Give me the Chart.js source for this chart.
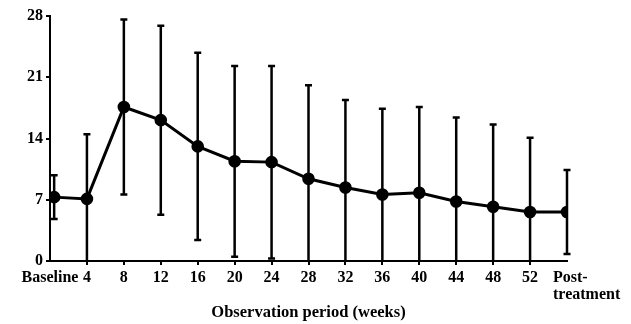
<!DOCTYPE html>
<html>
<head>
<meta charset="utf-8">
<script src="https://cdn.jsdelivr.net/npm/chart.js@4/dist/chart.umd.min.js"></script>
<style>
  html, body { margin: 0; padding: 0; background: #fff; }
  #wrap { width: 631px; height: 324px; }
</style>
</head>
<body>
<div id="wrap"><canvas id="obs-chart"></canvas></div>
<script>
// time points (weeks) and their axis labels
const weekLabels = ["Baseline", "4", "8", "12", "16", "20", "24", "28", "32", "36", "40", "44", "48", "52", "Post-treatment"];
const weekPos = [0.45, 4, 8, 12, 16, 20, 24, 28, 32, 36, 40, 44, 48, 52, 56];
const meanValues = [7.3, 7.1, 17.6, 16.1, 13.1, 11.4, 11.3, 9.4, 8.4, 7.6, 7.8, 6.8, 6.2, 5.6, 5.6];
const sdValues = [2.5, 7.4, 10.0, 10.8, 10.7, 10.9, 11.0, 10.7, 10.0, 9.8, 9.8, 9.6, 9.4, 8.5, 4.8];
const xTickValues = [0, 4, 8, 12, 16, 20, 24, 28, 32, 36, 40, 44, 48, 52, 56];
const yTickValues = [0, 7, 14, 21, 28];

const serifFamily = "'Liberation Serif', 'Times New Roman', serif";
const tickFont = { family: serifFamily, size: 16, weight: "bold" };
const titleFont = { family: serifFamily, size: 16.5, weight: "bold" };

const tickLabel = (v) => {
  if (v === 0) return weekLabels[0];
  if (v === 56) return "";
  return weekLabels[weekPos.indexOf(v)];
};

// error bars, drawn under the line
const errorBars = {
  id: "errorBars",
  beforeDatasetsDraw(chart) {
    const { ctx, scales: { x, y } } = chart;
    ctx.save();
    ctx.strokeStyle = "#000";
    ctx.lineCap = "butt";
    ctx.lineWidth = 2.5;
    weekPos.forEach((w, i) => {
      const px = x.getPixelForValue(w);
      const hi = meanValues[i] + sdValues[i];
      const lo = Math.max(0, meanValues[i] - sdValues[i]);
      const pHi = y.getPixelForValue(hi);
      const pLo = y.getPixelForValue(lo);
      ctx.beginPath();
      ctx.moveTo(px, pHi);
      ctx.lineTo(px, pLo);
      ctx.moveTo(px - 3.5, pHi);
      ctx.lineTo(px + 3.5, pHi);
      if (meanValues[i] - sdValues[i] > 0) {
        ctx.moveTo(px - 3.5, pLo);
        ctx.lineTo(px + 3.5, pLo);
      }
      ctx.stroke();
    });
    ctx.restore();
  },
  afterDraw(chart) {
    // last category label sits left-aligned, as in the source figure
    const { ctx, scales: { x } } = chart;
    const px = x.getPixelForValue(56);
    const parts = weekLabels[weekLabels.length - 1].split("-");
    ctx.save();
    ctx.fillStyle = "#000";
    ctx.font = "bold 16px " + serifFamily;
    ctx.textAlign = "left";
    ctx.textBaseline = "middle";
    ctx.fillText(parts[0] + "-", px - 14, 278);
    ctx.fillText(parts[1], px - 14, 295);
    ctx.restore();
  },
};

new Chart("obs-chart", {
  type: "line",
  data: {
    datasets: [
      {
        label: "Mean",
        data: weekPos.map((w, i) => ({ x: w, y: meanValues[i] })),
        borderColor: "#000",
        backgroundColor: "#000",
        borderWidth: 3,
        pointRadius: 4.8,
        pointHoverRadius: 4.8,
        tension: 0,
      },
    ],
  },
  options: {
    responsive: true,
    maintainAspectRatio: false,
    animation: false,
    layout: { padding: { top: 16, right: 64, bottom: 0, left: 0 } },
    plugins: {
      legend: { display: false },
      tooltip: { enabled: false },
    },
    scales: {
      x: {
        type: "linear",
        min: 0,
        max: 56,
        afterBuildTicks: (scale) => {
          scale.ticks = xTickValues.map((v) => ({ value: v }));
        },
        afterFit: (scale) => {
          scale.height = 63;
        },
        border: { color: "#000", width: 2 },
        grid: {
          drawOnChartArea: false,
          drawTicks: true,
          tickLength: 4,
          lineWidth: 2,
          color: (c) => (c.tick && (c.tick.value === 0 || c.tick.value === 56) ? "rgba(0,0,0,0)" : "#000"),
        },
        ticks: {
          color: "#000",
          font: tickFont,
          padding: 3,
          maxRotation: 0,
          autoSkip: false,
          callback: (v) => tickLabel(v),
        },
        title: {
          display: true,
          text: "Observation period (weeks)",
          color: "#000",
          font: titleFont,
          padding: { top: 0, bottom: 1 },
        },
      },
      y: {
        min: 0,
        max: 28,
        afterBuildTicks: (scale) => {
          scale.ticks = yTickValues.map((v) => ({ value: v }));
        },
        afterFit: (scale) => {
          scale.width = 50;
        },
        border: { color: "#000", width: 2 },
        grid: {
          drawOnChartArea: false,
          drawTicks: true,
          tickLength: 4,
          lineWidth: 2,
          color: "#000",
        },
        ticks: {
          color: "#000",
          font: tickFont,
          padding: 3,
        },
      },
    },
  },
  plugins: [errorBars],
});
</script>
</body>
</html>
